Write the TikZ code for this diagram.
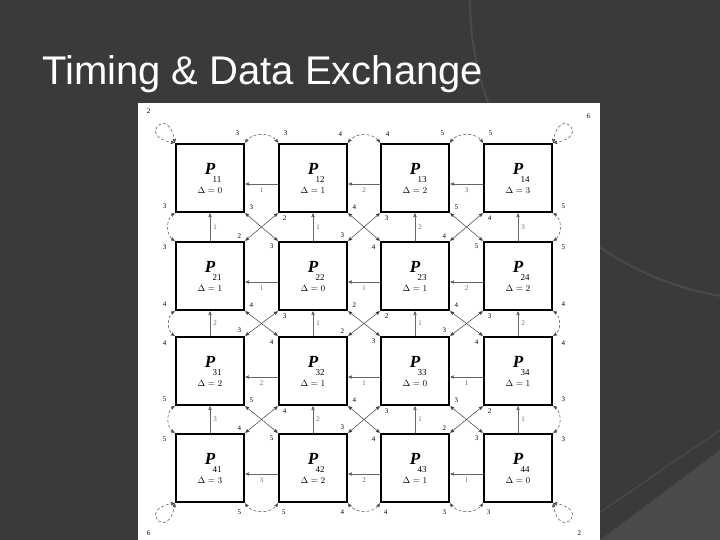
\documentclass[tikz,border=0pt]{standalone}
\usepackage{fontspec}
\setmainfont{Liberation Serif}
\newfontfamily\titlefont{Liberation Sans}
\usetikzlibrary{arrows}
\definecolor{slidebg}{HTML}{3A3A3A}
\definecolor{slidearc}{HTML}{4A4A4A}

\begin{document}
\begin{tikzpicture}[x=1pt,y=-1pt,>=stealth',
  proc/.style={draw,line width=2.6pt,minimum size=68pt,inner sep=0pt,fill=white},
  link/.style={->,gray!80!black,line width=0.5pt},
  wrap/.style={<->,densely dashed,black!70,line width=0.5pt},
  lab/.style={font=\fontsize{7}{8}\selectfont,inner sep=1pt}]

  % slide
  \useasboundingbox (0,0) rectangle (720,540);
  \clip (0,0) rectangle (720,540);
  \fill[slidebg] (0,0) rectangle (720,540);
  \draw[slidearc,line width=2pt] (470,0) arc[start angle=180,end angle=90,radius=300];
  \draw[slidearc,line width=1.2pt] (560,540) -- (720,430);
  \fill[slidearc] (600,540) -- (720,450) -- (720,540) -- cycle;
  \node[anchor=base west,text=white,font=\titlefont\fontsize{40}{44}\selectfont,inner sep=0pt]
    (title) at (42,85) {Timing \& Data Exchange};
  \fill[white] (138,103) rectangle (600,540);

  % processors
  \foreach \r/\y in {1/178,2/276,3/371,4/468}
    \foreach \c/\x in {1/210,2/313,3/415,4/518}
      \node[proc] (p\r\c) at (\x,\y) {};
  \foreach \r/\c/\d in {1/1/0,1/2/1,1/3/2,1/4/3,2/1/1,2/2/0,2/3/1,2/4/2,
                        3/1/2,3/2/1,3/3/0,3/4/1,4/1/3,4/2/2,4/3/1,4/4/0}
    \node[align=center,font=\small,inner sep=0pt] at (p\r\c)
      {{\fontsize{17}{17}\selectfont\bfseries\itshape P}\\[-3pt]
       \hspace*{14pt}\r\c\\ $\Delta=\d$};

  % row links
  \foreach \r/\c/\dir/\l in {1/1/r/1,1/2/r/2,1/3/r/3,2/1/l/1,2/2/l/1,2/3/r/2,
                             3/1/l/2,3/2/l/1,3/3/r/1,4/1/l/3,4/2/l/2,4/3/l/1}{
    \pgfmathtruncatemacro\n{\c+1}
    \ifx\dir r
      \draw[link] ([yshift=-6pt]p\r\c.east) -- node[lab,below=3pt] {\l} ([yshift=-6pt]p\r\n.west);
    \else
      \draw[link] ([yshift=-6pt]p\r\n.west) -- node[lab,below=3pt] {\l} ([yshift=-6pt]p\r\c.east);
    \fi}
  % column links
  \foreach \r/\c/\dir/\l in {1/1/d/1,1/2/u/1,1/3/u/2,1/4/u/3,2/1/d/2,2/2/d/1,2/3/u/1,2/4/d/2,
                             3/1/d/3,3/2/d/2,3/3/d/1,3/4/u/1}{
    \pgfmathtruncatemacro\n{\r+1}
    \ifx\dir d
      \draw[link] (p\r\c.south) -- node[lab,right=2pt] {\l} (p\n\c.north);
    \else
      \draw[link] (p\n\c.north) -- node[lab,right=2pt] {\l} (p\r\c.south);
    \fi}

  % diagonal crossings
  \foreach \r/\c/\a/\b/\e/\f in {1/1/3/2/2/3,1/2/4/3/3/4,1/3/5/4/4/5,
                                 2/1/4/3/3/4,2/2/2/2/2/3,2/3/4/3/3/4,
                                 3/1/5/4/4/5,3/2/4/3/3/4,3/3/3/2/2/3}{
    \pgfmathtruncatemacro\rn{\r+1}
    \pgfmathtruncatemacro\cn{\c+1}
    \draw[<->,black!75,line width=0.5pt] (p\r\c.south east) -- (p\rn\cn.north west);
    \draw[<->,black!75,line width=0.5pt] (p\r\cn.south west) -- (p\rn\c.north east);
    \node[lab] at ([shift={(6,-6)}]p\r\c.south east) {\a};
    \node[lab] at ([shift={(7,5)}]p\r\cn.south west) {\b};
    \node[lab] at ([shift={(-6,-5)}]p\rn\c.north east) {\e};
    \node[lab] at ([shift={(-6,6)}]p\rn\cn.north west) {\f};
  }

  % wrap-around arcs
  \foreach \c/\l in {1/3,2/4,3/5}{
    \pgfmathtruncatemacro\cn{\c+1}
    \draw[wrap] (p1\c.north east) to[out=60,in=120] (p1\cn.north west);
    \node[lab] at ([shift={(-8,-9)}]p1\c.north east) {\l};
    \node[lab] at ([shift={(8,-9)}]p1\cn.north west) {\l};
  }
  \foreach \c/\l in {1/5,2/4,3/3}{
    \pgfmathtruncatemacro\cn{\c+1}
    \draw[wrap] (p4\c.south east) to[out=-60,in=-120] (p4\cn.south west);
    \node[lab] at ([shift={(-6,9)}]p4\c.south east) {\l};
    \node[lab] at ([shift={(6,9)}]p4\cn.south west) {\l};
  }
  \foreach \r/\l in {1/3,2/4,3/5}{
    \pgfmathtruncatemacro\rn{\r+1}
    \draw[wrap] (p\r1.south west) to[out=210,in=150] (p\rn1.north west);
    \node[lab] at ([shift={(-10,-7)}]p\r1.south west) {\l};
    \node[lab] at ([shift={(-10,7)}]p\rn1.north west) {\l};
  }
  \foreach \r/\l in {1/5,2/4,3/3}{
    \pgfmathtruncatemacro\rn{\r+1}
    \draw[wrap] (p\r4.south east) to[out=-30,in=30] (p\rn4.north east);
    \node[lab] at ([shift={(10,-7)}]p\r4.south east) {\l};
    \node[lab] at ([shift={(10,7)}]p\rn4.north east) {\l};
  }

  % self loops
  \draw[wrap] (p11.north west) .. controls +(-40,-5) and +(-5,-40) .. (p11.north west);
  \node[lab] at ([shift={(-26,-32)}]p11.north west) {2};
  \draw[wrap] (p14.north east) .. controls +(40,-5) and +(5,-40) .. (p14.north east);
  \node[lab] at ([shift={(35,-26)}]p14.north east) {6};
  \draw[wrap] (p41.south west) .. controls +(-40,5) and +(-5,40) .. (p41.south west);
  \node[lab] at ([shift={(-26,30)}]p41.south west) {6};
  \draw[wrap] (p44.south east) .. controls +(40,5) and +(5,40) .. (p44.south east);
  \node[lab] at ([shift={(26,30)}]p44.south east) {2};
\end{tikzpicture}
\end{document}
